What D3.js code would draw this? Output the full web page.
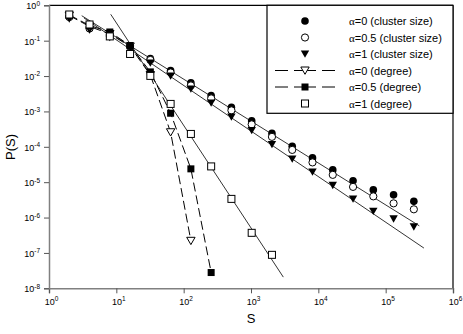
<!DOCTYPE html>
<html>
<head>
<meta charset="utf-8">
<script src="https://cdn.jsdelivr.net/npm/d3@7"></script>
<style>
  body { margin: 0; background: #fff; }
  svg { font-family: "Liberation Sans", Arial, sans-serif; }
</style>
</head>
<body>
<div id="chart"></div>
<script>
// cluster sizes S (log-spaced bins)
const sizes = [2, 4, 8, 16, 32, 64, 128, 256, 512, 1024, 2048, 4096, 8192,
  16384, 32768, 65536, 131072, 262144];

// P(S)
const clusterA0 = [0.467, 0.229, 0.145, 0.0708, 0.0314, 0.0144, 6.4e-3, 2.83e-3, 1.30e-3,
  5.4e-4, 2.39e-4, 1.03e-4, 4.85e-5, 2.22e-5, 1.09e-5, 6.05e-6, 4.38e-6, 2.87e-6];
const clusterA05 = [0.467, 0.221, 0.136, 0.0664, 0.0285, 0.0126, 5.42e-3, 2.33e-3, 1.07e-3,
  4.3e-4, 1.91e-4, 8.17e-5, 3.62e-5, 1.61e-5, 7.36e-6, 3.97e-6, 2.52e-6, 1.71e-6];
const clusterA1 = [0.41, 0.20, 0.123, 0.0583, 0.0234, 0.0101, 4.33e-3, 1.74e-3, 7.0e-4,
  2.9e-4, 1.17e-4, 4.55e-5, 1.95e-5, 8.13e-6, 3.37e-6, 1.5e-6, 9.18e-7, 5.46e-7];
const degreeA0 = [0.515, 0.252, 0.155, 0.0686, 0.0107, 2.58e-4, 2.2e-7];
const degreeA05 = [0.532, 0.269, 0.176, 0.0731, 0.0131, 8.89e-4, 2.38e-5, 2.79e-8];
const degreeA1 = [0.55, 0.287, 0.132, 0.0421, 0.0101, 1.63e-3, 2.31e-4, 2.79e-5,
  3.37e-6, 3.7e-7, 8.83e-8];

// power-law fit lines, [S, P] end points
const fitCluster0 = [[3.06, 0.508], [3.16e5, 5.83e-7]];
const fitCluster1 = [[3.31, 0.438], [3.7e5, 1.37e-7]];
const fitDegree1 = [[8.25, 0.557], [3020, 2.07e-8]];

const xTicks = [1, 10, 100, 1e3, 1e4, 1e5, 1e6];
const yTicks = [1e-8, 1e-7, 1e-6, 1e-5, 1e-4, 1e-3, 1e-2, 1e-1, 1];

const legendLabels = ["=0 (cluster size)", "=0.5 (cluster size)", "=1 (cluster size)",
  "=0 (degree)", "=0.5 (degree)", "=1 (degree)"];

const width = 463, height = 334;
const plotL = 49, plotR = 453, plotT = 5.3, plotB = 288.3;

const svg = d3.select("#chart").append("svg")
  .attr("width", width)
  .attr("height", height);

const x = d3.scaleLog().domain([1, 1e6]).range([plotL, plotR]);
const y = d3.scaleLog().domain([1e-8, 1]).range([plotB, plotT]);

// frame top/right
svg.append("line").attr("x1", plotL).attr("x2", plotR).attr("y1", plotT).attr("y2", plotT)
  .attr("stroke", "#000").attr("stroke-width", 1.2);
svg.append("line").attr("x1", plotR).attr("x2", plotR).attr("y1", plotT).attr("y2", plotB)
  .attr("stroke", "#000").attr("stroke-width", 1.2);

function expLabel(sel) {
  sel.each(function (d) {
    const t = d3.select(this);
    t.text(null);
    t.append("tspan").text("10");
    t.append("tspan").attr("dy", -3.5).attr("font-size", 6.5)
      .text(Math.round(Math.log10(d)));
  });
}

const xAxis = svg.append("g")
  .attr("transform", `translate(0,${plotB})`)
  .call(d3.axisBottom(x).tickValues(xTicks).tickSize(5).tickPadding(5).tickFormat(() => ""));
xAxis.selectAll("text").call(expLabel).attr("font-size", 9).attr("fill", "#000")
  .attr("dx", 2);

const yAxis = svg.append("g")
  .attr("transform", `translate(${plotL},0)`)
  .call(d3.axisLeft(y).tickValues(yTicks).tickSize(5).tickPadding(4).tickFormat(() => ""));
yAxis.selectAll("text").call(expLabel).attr("font-size", 9).attr("fill", "#000")
  .attr("dy", "0.38em");

svg.selectAll(".domain").attr("stroke", "#808080").attr("stroke-width", 1.5);
svg.selectAll(".tick line").attr("stroke", "#555");

// axis titles
svg.append("text").attr("x", 251).attr("y", 323).attr("text-anchor", "middle")
  .attr("font-size", 13).text("S");
svg.append("text").attr("transform", "translate(15,147) rotate(-90)")
  .attr("text-anchor", "middle").attr("font-size", 13).text("P(S)");

// fit lines
const line = d3.line().x(d => x(d[0])).y(d => y(d[1]));
[fitCluster0, fitCluster1, fitDegree1].forEach(f => {
  svg.append("path").attr("d", line(f)).attr("fill", "none")
    .attr("stroke", "#000").attr("stroke-width", 0.8);
});

// marker shapes
const tri = "M-4.2,-3.5L4.2,-3.5L0,3.8Z";
function drawMarker(g, type) {
  if (type === "fc") g.append("circle").attr("r", 3.8).attr("fill", "#000");
  if (type === "oc") g.append("circle").attr("r", 3.6).attr("fill", "#fff").attr("stroke", "#000");
  if (type === "ft") g.append("path").attr("d", tri).attr("fill", "#000");
  if (type === "ot") g.append("path").attr("d", tri).attr("fill", "#fff").attr("stroke", "#000");
  if (type === "fs") g.append("rect").attr("x", -3.5).attr("y", -3.5).attr("width", 7).attr("height", 7).attr("fill", "#000");
  if (type === "os") g.append("rect").attr("x", -3.5).attr("y", -3.5).attr("width", 7).attr("height", 7)
    .attr("fill", "#fff").attr("stroke", "#000");
}

function series(vals, type, dashed) {
  const pts = vals.map((v, i) => [sizes[i], v]);
  if (dashed) {
    svg.append("path").attr("d", line(pts)).attr("fill", "none")
      .attr("stroke", "#000").attr("stroke-width", 1).attr("stroke-dasharray", "9,4");
  }
  svg.append("g").selectAll("g").data(pts).enter().append("g")
    .attr("transform", d => `translate(${x(d[0])},${y(d[1])})`)
    .each(function () { drawMarker(d3.select(this), type); });
}

series(clusterA0, "fc");
series(clusterA05, "oc");
series(clusterA1, "ft");
series(degreeA0, "ot", true);
series(degreeA05, "fs", true);
series(degreeA1, "os");

// legend
const lg = svg.append("g");
lg.append("rect").attr("x", 267).attr("y", plotT).attr("width", plotR - 267).attr("height", 108)
  .attr("fill", "#fff").attr("stroke", "#000").attr("stroke-width", 1.2);
const types = ["fc", "oc", "ft", "ot", "fs", "os"];
types.forEach((t, i) => {
  const ry = 21 + i * 16.5;
  if (t === "ot" || t === "fs") {
    lg.append("line").attr("x1", 275).attr("x2", 335).attr("y1", ry).attr("y2", ry)
      .attr("stroke", "#000").attr("stroke-dasharray", "13,6,22,6,13");
  }
  const m = lg.append("g").attr("transform", `translate(305,${ry})`);
  drawMarker(m, t);
  const tx = lg.append("text").attr("x", 349).attr("y", ry + 4).attr("font-size", 11);
  tx.append("tspan").attr("font-family", "'Liberation Serif', serif").text("α");
  tx.append("tspan").text(legendLabels[i]);
});
</script>
</body>
</html>
